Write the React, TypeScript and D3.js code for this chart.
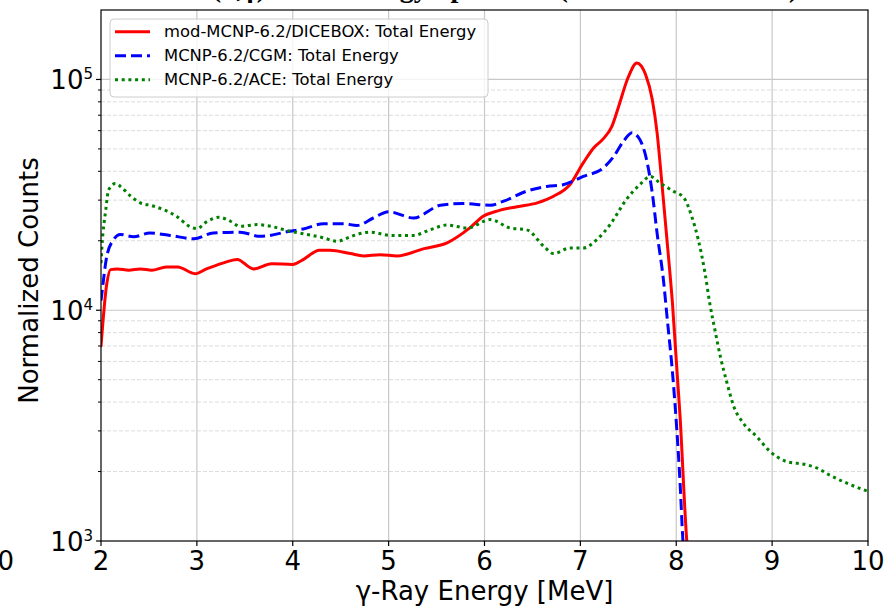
import React from "react";
import * as d3 from "d3";

// ---------------- data ----------------
const seriesNames = [
  "mod-MCNP-6.2/DICEBOX: Total Energy",
  "MCNP-6.2/CGM: Total Energy",
  "MCNP-6.2/ACE: Total Energy",
];

const diceboxE = [2.0, 2.06, 2.1, 2.17, 2.29, 2.41, 2.53, 2.68, 2.8, 2.98, 3.1, 3.27, 3.42, 3.59, 3.78, 4.0, 4.1, 4.28, 4.39, 4.6, 4.74, 4.91, 5.09, 5.37, 5.61, 5.85, 5.99, 6.13, 6.34, 6.55, 6.72, 6.89, 7.03, 7.14, 7.24, 7.33, 7.4, 7.49, 7.59, 7.68, 7.75, 7.8, 7.85, 7.9, 7.96, 8.04, 8.11, 8.13];
const diceboxV = [7000, 13000, 15000, 15100, 14900, 15100, 14900, 15400, 15400, 14400, 15100, 16000, 16600, 15100, 15900, 15800, 16500, 18200, 18200, 17600, 17200, 17400, 17200, 18500, 19600, 22800, 25600, 26900, 28100, 29200, 31200, 35000, 43500, 50600, 55400, 62800, 76600, 100000, 118000, 105000, 81900, 58800, 35600, 20900, 10800, 3460, 1000, 800];

const cgmE = [2.0, 2.01, 2.06, 2.13, 2.2, 2.34, 2.51, 2.72, 2.97, 3.17, 3.45, 3.66, 3.97, 4.11, 4.32, 4.53, 4.67, 4.84, 5.0, 5.26, 5.54, 5.78, 6.06, 6.2, 6.44, 6.65, 6.82, 7.03, 7.24, 7.35, 7.45, 7.54, 7.62, 7.69, 7.75, 7.8, 7.87, 7.9, 7.97, 8.04, 8.07, 8.09];
const cgmV = [11000, 11900, 17100, 20200, 21300, 20800, 21600, 21100, 20400, 21600, 21800, 20900, 22000, 22500, 23700, 23700, 23300, 25100, 26700, 25100, 28500, 29000, 28500, 29700, 32800, 34400, 35000, 38000, 41400, 46500, 54000, 58700, 54900, 45000, 32200, 21600, 13100, 9730, 4830, 1780, 1000, 800];

const aceE = [2.0, 2.01, 2.05, 2.08, 2.15, 2.22, 2.31, 2.41, 2.53, 2.65, 2.79, 2.93, 3.0, 3.11, 3.23, 3.35, 3.45, 3.63, 3.77, 3.97, 4.15, 4.32, 4.46, 4.6, 4.67, 4.81, 5.02, 5.26, 5.43, 5.61, 5.82, 6.06, 6.27, 6.44, 6.62, 6.72, 6.89, 7.03, 7.17, 7.31, 7.48, 7.62, 7.73, 7.83, 7.97, 8.08, 8.16, 8.23, 8.3, 8.35, 8.41, 8.46, 8.53, 8.6, 8.7, 8.84, 8.98, 9.15, 9.36, 9.47, 9.6, 9.78, 10.0];
const aceV = [16000, 18900, 27300, 33300, 35400, 33900, 31200, 29200, 28400, 27300, 25500, 23000, 22600, 24300, 25300, 24300, 23100, 23500, 23100, 22000, 21300, 20600, 19900, 20800, 21300, 21800, 21100, 21100, 22300, 23400, 22700, 24700, 22700, 22300, 18900, 17600, 18600, 18600, 20200, 23500, 30200, 35000, 38000, 35600, 32800, 30700, 25600, 20200, 14500, 10700, 7960, 6300, 4830, 3830, 3240, 2830, 2440, 2210, 2140, 2070, 1930, 1780, 1640];

const xTicks = [2, 3, 4, 5, 6, 7, 8, 9, 10];
const yMajor = [1e3, 1e4, 1e5];
const yExponents = ["3", "4", "5"];
const titleText = "(n,γ) Total Energy Spectrum (Thermal Neutrons)";
const xLabel = "γ-Ray Energy [MeV]";
const yLabel = "Normalized Counts";

// ---------------- layout ----------------
const W = 887;
const H = 606;
const L = 101, R = 868, T = 10, B = 541;
const FONT = "'DejaVu Sans', sans-serif";

export default function App() {
  const x = d3.scaleLinear().domain([2, 10]).range([L, R]);
  const y = d3.scaleLog().domain([1e3, 2e5]).range([B, T]);

  const mk = (es: number[], vs: number[]) =>
    d3
      .line<number>()
      .x((_, i) => x(es[i]))
      .y((_, i) => y(vs[i]))
      .curve(d3.curveMonotoneX)(vs) as string;

  const minor: number[] = [];
  for (const dec of [1e3, 1e4, 1e5]) {
    for (let k = 2; k <= 9; k++) {
      const v = k * dec;
      if (v < 2e5) minor.push(v);
    }
  }

  const series = [
    { name: seriesNames[0], d: mk(diceboxE, diceboxV), color: "#ff0000", dash: "none" },
    { name: seriesNames[1], d: mk(cgmE, cgmV), color: "#0000ff", dash: "11,5" },
    { name: seriesNames[2], d: mk(aceE, aceV), color: "#008000", dash: "3,3.7" },
  ];

  return (
    <svg
      width={W}
      height={H}
      style={{ position: "absolute", left: 0, top: 0, background: "#fff" }}
      fontFamily={FONT}
    >
      <defs>
        <clipPath id="plotClip">
          <rect x={L} y={T} width={R - L} height={B - T} />
        </clipPath>
      </defs>

      {/* title (mostly cut off) */}
      <text
        x={505}
        y={-3.5}
        textAnchor="middle"
        fontFamily="'Liberation Serif', serif"
        fontWeight="bold"
        fontSize={28}
        fill="#000"
      >
        {titleText}
      </text>

      {/* grid */}
      {minor.map((v) => (
        <line
          key={"mg" + v}
          x1={L}
          x2={R}
          y1={y(v)}
          y2={y(v)}
          stroke="#dcdcdc"
          strokeWidth={1}
          strokeDasharray="4,2"
        />
      ))}
      {yMajor.slice(1).map((v) => (
        <line key={"yg" + v} x1={L} x2={R} y1={y(v)} y2={y(v)} stroke="#c8c8c8" strokeWidth={1.2} />
      ))}
      {xTicks.slice(1, -1).map((t) => (
        <line key={"xg" + t} x1={x(t)} x2={x(t)} y1={T} y2={B} stroke="#c8c8c8" strokeWidth={1.2} />
      ))}

      {/* curves */}
      <g clipPath="url(#plotClip)">
        {series.map((s) => (
          <path
            key={s.name}
            d={s.d}
            fill="none"
            stroke={s.color}
            strokeWidth={3}
            strokeDasharray={s.dash}
            strokeLinecap={s.dash === "none" ? "round" : "butt"}
          />
        ))}
      </g>

      {/* spines */}
      <rect x={L} y={T} width={R - L} height={B - T} fill="none" stroke="#000" strokeWidth={1.2} />

      {/* x ticks */}
      {xTicks.map((t) => (
        <g key={"xt" + t}>
          <line x1={x(t)} x2={x(t)} y1={B} y2={B + 5} stroke="#000" strokeWidth={1.2} />
          <text x={x(t)} y={570} textAnchor="middle" fontSize={26} fill="#000">
            {t}
          </text>
        </g>
      ))}
      {/* stray label of neighbouring panel */}
      <text x={14} y={570} textAnchor="end" fontSize={26} fill="#000">
        10
      </text>

      {/* y ticks */}
      {minor.map((v) => (
        <line key={"ymt" + v} x1={L - 3} x2={L} y1={y(v)} y2={y(v)} stroke="#000" strokeWidth={1} />
      ))}
      {yMajor.map((v, i) => (
        <g key={"yt" + v}>
          <line x1={L - 5} x2={L} y1={y(v)} y2={y(v)} stroke="#000" strokeWidth={1.2} />
          <text x={93} y={y(v) + 10} textAnchor="end" fontSize={26} fill="#000">
            10
            <tspan fontSize={15} dy={-10}>
              {yExponents[i]}
            </tspan>
          </text>
        </g>
      ))}

      {/* axis labels */}
      <text x={(L + R) / 2} y={600} textAnchor="middle" fontSize={26} fill="#000">
        {xLabel}
      </text>
      <text
        transform={`translate(38,${(T + B) / 2 + 5}) rotate(-90)`}
        textAnchor="middle"
        fontSize={26}
        fill="#000"
      >
        {yLabel}
      </text>

      {/* legend */}
      <g>
        <rect x={110} y={19} width={378} height={78} rx={4} fill="#fff" fillOpacity={0.8} stroke="#cccccc" strokeWidth={1} />
        {series.map((s, i) => {
          const cy = 31.7 + i * 24;
          return (
            <g key={"lg" + i}>
              <line
                x1={115}
                x2={150}
                y1={cy}
                y2={cy}
                stroke={s.color}
                strokeWidth={3}
                strokeDasharray={s.dash}
              />
              <text x={164} y={cy} dominantBaseline="central" fontSize={16.4} fill="#000">
                {s.name}
              </text>
            </g>
          );
        })}
      </g>
    </svg>
  );
}
